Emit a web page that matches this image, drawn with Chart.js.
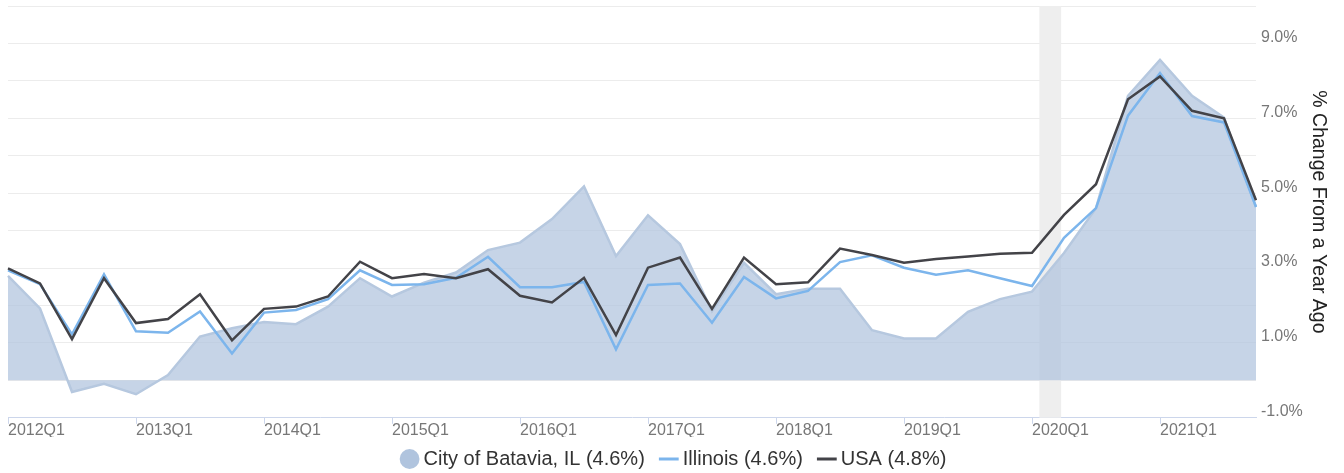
<!DOCTYPE html>
<html>
<head>
<meta charset="utf-8">
<script src="https://cdn.jsdelivr.net/npm/chart.js@4.4.1/dist/chart.umd.min.js"></script>
<style>
  html, body { margin: 0; padding: 0; background: #fff; }
  #wrap { width: 1344px; height: 473px; position: relative; }
</style>
</head>
<body>
<div id="wrap"><canvas id="myChart"></canvas></div>
<script>
const years = [2012, 2013, 2014, 2015, 2016, 2017, 2018, 2019, 2020, 2021];
const quarters = [];
years.forEach(y => ['Q1', 'Q2', 'Q3', 'Q4'].forEach(q => quarters.push(y + q)));

const batavia = [2.79, 1.92, -0.31, -0.09, -0.37, 0.14, 1.17, 1.39, 1.56, 1.50,
                 1.97, 2.73, 2.24, 2.61, 2.88, 3.48, 3.68, 4.31, 5.18, 3.32,
                 4.41, 3.64, 1.85, 3.14, 2.30, 2.45, 2.45, 1.34, 1.12, 1.12,
                 1.83, 2.17, 2.37, 3.40, 4.60, 7.60, 8.56, 7.60, 7.02, 4.63];
const illinois = [2.94, 2.57, 1.23, 2.83, 1.31, 1.27, 1.84, 0.72, 1.81, 1.88,
                  2.17, 2.94, 2.55, 2.57, 2.74, 3.30, 2.49, 2.49, 2.63, 0.83,
                  2.55, 2.59, 1.54, 2.76, 2.19, 2.39, 3.16, 3.34, 3.01, 2.82,
                  2.94, 2.73, 2.52, 3.81, 4.60, 7.07, 8.21, 7.06, 6.89, 4.63];
const usa = [2.99, 2.59, 1.10, 2.73, 1.53, 1.64, 2.30, 1.07, 1.91, 1.97,
             2.24, 3.17, 2.73, 2.84, 2.73, 2.97, 2.26, 2.08, 2.74, 1.21,
             3.01, 3.28, 1.91, 3.28, 2.57, 2.62, 3.52, 3.35, 3.14, 3.24,
             3.31, 3.38, 3.41, 4.42, 5.24, 7.51, 8.12, 7.20, 7.00, 4.81];

const seriesNames = ['City of Batavia, IL (4.6%)', 'Illinois (4.6%)', 'USA (4.8%)'];
// recession band, in quarter-index units (Feb 2020 - Apr 2020)
const recession = [32.23, 32.91];

const FONT = "'Liberation Sans', Arial, sans-serif";

const recessionBand = {
    id: 'recessionBand',
    beforeDatasetsDraw(chart) {
        const { ctx, chartArea, scales } = chart;
        const x1 = scales.x.getPixelForValue(recession[0]);
        const x2 = scales.x.getPixelForValue(recession[1]);
        ctx.save();
        ctx.fillStyle = '#eeeeee';
        ctx.fillRect(x1, chartArea.top, x2 - x1, chartArea.bottom - chartArea.top);
        ctx.restore();
    }
};

const config = {
    type: 'line',
    data: {
        labels: quarters,
        datasets: [
            {
                label: seriesNames[0],
                data: batavia,
                borderColor: '#b6c8df',
                backgroundColor: 'rgba(176,196,222,0.72)',
                borderWidth: 2.5,
                fill: 'origin',
                pointRadius: 0,
                order: 3
            },
            {
                label: seriesNames[1],
                data: illinois,
                borderColor: '#7cb5ec',
                backgroundColor: '#7cb5ec',
                borderWidth: 2.5,
                fill: false,
                pointRadius: 0,
                order: 2
            },
            {
                label: seriesNames[2],
                data: usa,
                borderColor: '#434348',
                backgroundColor: '#434348',
                borderWidth: 2.5,
                fill: false,
                pointRadius: 0,
                order: 1
            }
        ]
    },
    options: {
        responsive: true,
        maintainAspectRatio: false,
        animation: false,
        layout: { padding: { left: 8, right: 0, top: 6, bottom: -6 } },
        plugins: {
            tooltip: { enabled: false },
            legend: {
                position: 'bottom',
                // empty title with negative padding: pulls the items up
                // while keeping the wide gap between items
                title: {
                    display: true,
                    text: '',
                    padding: -4,
                    font: { family: FONT, size: 1, lineHeight: 0 }
                },
                labels: {
                    usePointStyle: true,
                    boxWidth: 8,
                    boxHeight: 14,
                    padding: 20,
                    color: '#333',
                    font: { family: FONT, size: 20 },
                    generateLabels(chart) {
                        return chart.data.datasets.map((ds, i) => ({
                            text: ds.label,
                            fillStyle: i === 0 ? '#b0c4de' : ds.borderColor,
                            strokeStyle: i === 0 ? '#b0c4de' : ds.borderColor,
                            lineWidth: i === 0 ? 0 : 3,
                            pointStyle: i === 0 ? 'circle' : 'line',
                            fontColor: '#333',
                            datasetIndex: i,
                            hidden: false
                        }));
                    }
                }
            }
        },
        scales: {
            x: {
                offset: false,
                afterBuildTicks(scale) {
                    scale.ticks = scale.ticks.filter(t => t.value % 4 === 0);
                },
                ticks: {
                    autoSkip: false,
                    maxRotation: 0,
                    align: 'start',
                    padding: -3,
                    color: '#777',
                    font: { family: FONT, size: 16 }
                },
                grid: {
                    drawOnChartArea: false,
                    drawTicks: true,
                    tickLength: 6,
                    color: '#ccd6eb'
                },
                border: { color: '#ccd6eb', width: 1 }
            },
            y: {
                position: 'right',
                min: -1,
                max: 10,
                afterBuildTicks(scale) {
                    const t = [];
                    for (let v = -1; v <= 10; v++) t.push({ value: v });
                    scale.ticks = t;
                },
                afterFit(scale) {
                    scale.width = 88;
                    scale.paddingTop = 0;
                    scale.paddingBottom = 0;
                },
                ticks: {
                    padding: 5,
                    labelOffset: -6,
                    color: '#777',
                    font: { family: FONT, size: 16 },
                    callback: v => (Math.abs(v % 2) === 1 ? v.toFixed(1) + '%' : '')
                },
                grid: {
                    drawTicks: false,
                    color: ctx => (ctx.tick && ctx.tick.value === -1 ? 'rgba(0,0,0,0)' : '#ececec')
                },
                border: { display: false },
                title: {
                    display: true,
                    text: '% Change From a Year Ago',
                    color: '#222',
                    font: { family: FONT, size: 19.5 },
                    padding: { top: 14, bottom: 0 }
                }
            }
        }
    },
    plugins: [recessionBand]
};

const ctx = document.getElementById('myChart').getContext('2d');
const myChart = new Chart(ctx, config);
</script>
</body>
</html>
